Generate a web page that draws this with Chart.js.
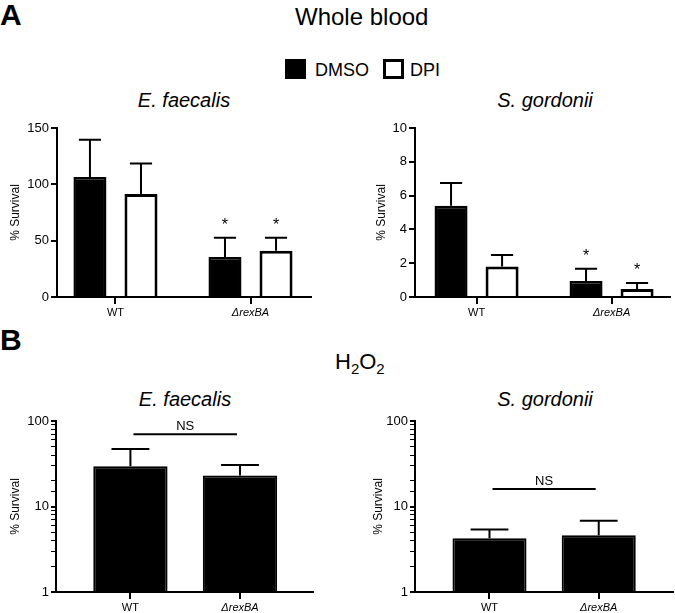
<!DOCTYPE html>
<html lang="en">
<head>
<meta charset="UTF-8">
<title>Whole blood / H2O2 survival</title>
<script src="https://cdn.jsdelivr.net/npm/chart.js"></script>
<style>
  body { margin:0; width:675px; height:613px; position:relative; background:#fff; overflow:hidden;
         font-family:"Liberation Sans", Arial, sans-serif; color:#000; }
  canvas, .t, .box { position:absolute; }
  .t { white-space:nowrap; line-height:1; }
  .c { transform:translateX(-50%); }
  .letter { font-weight:bold; font-size:30px; }
  .sp { font-style:italic; font-size:20px; }
  .box { width:21px; height:20px; box-sizing:border-box; border:3px solid #000; }
</style>
</head>
<body>
<div class="t letter" style="left:0;top:0">A</div>
<div class="t" style="left:295px;top:5px;font-size:24px">Whole blood</div>
<div class="box" style="left:285px;top:59px;background:#000"></div>
<div class="t" style="left:315px;top:61px;font-size:18px">DMSO</div>
<div class="box" style="left:383px;top:59px;background:#fff"></div>
<div class="t" style="left:410px;top:61px;font-size:18px">DPI</div>
<div class="t sp c" style="left:184px;top:90px">E. faecalis</div>
<div class="t sp c" style="left:545px;top:90px">S. gordonii</div>

<div class="t letter" style="left:0;top:325px">B</div>
<div class="t" style="left:335px;top:351px;font-size:22px">H<span style="font-size:15px;position:relative;top:5px">2</span>O<span style="font-size:15px;position:relative;top:5px">2</span></div>
<div class="t sp c" style="left:185px;top:389px">E. faecalis</div>
<div class="t sp c" style="left:545px;top:389px">S. gordonii</div>

<canvas id="aLeft" width="330" height="210" style="left:0;top:115px"></canvas>
<canvas id="aRight" width="309" height="210" style="left:366px;top:115px"></canvas>
<canvas id="bLeft" width="330" height="213" style="left:0;top:400px"></canvas>
<canvas id="bRight" width="312" height="213" style="left:363px;top:400px"></canvas>

<script>
// categories
const groups = ['WT', 'ΔrexBA'];

// A - whole blood, % survival (mean and SD)
const efDmso = [106.5, 35.5];
const efDmsoSd = [33, 17];
const efDpi = [91.5, 41];
const efDpiSd = [27, 11.5];
const sgDmso = [5.4, 0.95];
const sgDmsoSd = [1.35, 0.72];
const sgDpi = [1.8, 0.47];
const sgDpiSd = [0.68, 0.36];
const starDmso = [false, true];
const starDpi = [false, true];

// B - H2O2, % survival (mean and SD)
const efH2o2 = [29.5, 23];
const efH2o2Sd = [17.5, 7.6];
const sgH2o2 = [4.25, 4.6];
const sgH2o2Sd = [1.15, 2.2];
const efNsLevel = 70;
const sgNsLevel = 16;

// tick labels
const aLeftTicks = [0, 50, 100, 150];
const aRightTicks = [0, 2, 4, 6, 8, 10];
const logLabels = [1, 10, 100];

const FONT = '"Liberation Sans", Arial, sans-serif';
Chart.defaults.font.family = FONT;
Chart.defaults.color = '#000';

// error bars (upper whisker only), stars and the NS bracket
const errorBars = {
  id: 'errorBars',
  afterDatasetsDraw(chart, args, opts) {
    const ctx = chart.ctx;
    const y = chart.scales.y;
    ctx.save();
    ctx.strokeStyle = '#000';
    ctx.fillStyle = '#000';
    ctx.lineWidth = 2;
    chart.data.datasets.forEach((ds, i) => {
      chart.getDatasetMeta(i).data.forEach((bar, j) => {
        const top = y.getPixelForValue(ds.data[j].y + ds.sd[j]);
        const half = bar.width * opts.cap / 2;
        ctx.beginPath();
        ctx.moveTo(bar.x, bar.y);
        ctx.lineTo(bar.x, top);
        ctx.moveTo(bar.x - half, top);
        ctx.lineTo(bar.x + half, top);
        ctx.stroke();
        if (ds.star && ds.star[j]) {
          ctx.font = '16px ' + FONT;
          ctx.textAlign = 'center';
          ctx.fillText('*', bar.x, top - 8);
        }
      });
    });
    if (opts.ns) {
      const x = chart.scales.x;
      const ly = y.getPixelForValue(opts.ns);
      const x0 = x.getPixelForValue(0) + 3, x1 = x.getPixelForValue(1) - 3;
      ctx.beginPath();
      ctx.moveTo(x0, ly);
      ctx.lineTo(x1, ly);
      ctx.stroke();
      ctx.font = '13px ' + FONT;
      ctx.textAlign = 'center';
      ctx.fillText('NS', (x0 + x1) / 2, ly - 4);
    }
    ctx.restore();
  }
};

function pts(vals) {
  return vals.map((v, i) => ({ x: i, y: v }));
}

function panel(id, datasets, yScale, o) {
  new Chart(document.getElementById(id), {
    type: 'bar',
    data: { datasets: datasets },
    plugins: [errorBars],
    options: {
      responsive: false,
      animation: false,
      layout: { padding: { top: o.padTop, right: o.padRight, bottom: 0, left: 0 } },
      plugins: {
        legend: { display: false },
        tooltip: { enabled: false },
        errorBars: { cap: o.cap, ns: o.ns }
      },
      scales: {
        x: {
          type: 'linear',
          min: o.xMin,
          max: o.xMax,
          offset: false,
          afterBuildTicks: s => { s.ticks = [{ value: 0 }, { value: 1 }]; },
          afterFit: s => { s.height = o.xHeight; },
          grid: { offset: false, drawOnChartArea: false, tickLength: 7, color: '#000', lineWidth: 2 },
          border: { color: '#000', width: 2 },
          ticks: {
            padding: 2,
            maxRotation: 0,
            font: c => ({ size: 11, style: c.index === 1 ? 'italic' : 'normal' }),
            callback: v => groups[v]
          }
        },
        y: Object.assign({
          afterFit: s => { s.width = o.yWidth; },
          border: { color: '#000', width: 2 },
          title: { display: true, text: '% Survival', font: { size: 12 }, padding: { top: 8, bottom: 0 } }
        }, yScale)
      }
    }
  });
}

function linearY(ticks) {
  return {
    type: 'linear',
    min: ticks[0],
    max: ticks[ticks.length - 1],
    afterBuildTicks: s => { s.ticks = ticks.map(v => ({ value: v })); },
    grid: { drawOnChartArea: false, tickLength: 6, color: '#000', lineWidth: 2 },
    ticks: { font: { size: 13 }, padding: 2 }
  };
}

function logY() {
  return {
    type: 'logarithmic',
    min: 1,
    max: 100,
    grid: {
      drawOnChartArea: false, tickLength: 5, color: '#000',
      lineWidth: c => (c.tick && logLabels.includes(c.tick.value)) ? 2 : 1
    },
    ticks: {
      autoSkip: false,
      font: { size: 13 },
      padding: 2,
      callback: v => logLabels.includes(v) ? String(v) : ''
    }
  };
}

const groupedBars = { categoryPercentage: 0.756, barPercentage: 0.647 };
const dmsoStyle = { backgroundColor: '#000', borderColor: '#000', borderWidth: 2.5 };
const dpiStyle = { backgroundColor: '#fff', borderColor: '#000', borderWidth: 3 };
const singleBars = { backgroundColor: '#000', borderColor: '#000', borderWidth: 2, categoryPercentage: 1, barPercentage: 0.678 };

panel('aLeft', [
  Object.assign({ label: 'DMSO', data: pts(efDmso), sd: efDmsoSd, star: starDmso }, dmsoStyle, groupedBars),
  Object.assign({ label: 'DPI', data: pts(efDpi), sd: efDpiSd, star: starDpi }, dpiStyle, groupedBars)
], linearY(aLeftTicks), { padTop: 13, padRight: 19, xHeight: 28, yWidth: 57, xMin: -0.433, xMax: 1.448, cap: 0.67 });

panel('aRight', [
  Object.assign({ label: 'DMSO', data: pts(sgDmso), sd: sgDmsoSd, star: starDmso }, dmsoStyle, groupedBars),
  Object.assign({ label: 'DPI', data: pts(sgDpi), sd: sgDpiSd, star: starDpi }, dpiStyle, groupedBars)
], linearY(aRightTicks), { padTop: 13, padRight: 5, xHeight: 28, yWidth: 49, xMin: -0.456, xMax: 1.433, cap: 0.67 });

panel('bLeft', [
  Object.assign({ label: 'DMSO', data: pts(efH2o2), sd: efH2o2Sd }, singleBars)
], logY(), { padTop: 21, padRight: 17, xHeight: 21, yWidth: 56, xMin: -0.679, xMax: 1.666, cap: 0.51, ns: efNsLevel });

panel('bRight', [
  Object.assign({ label: 'DMSO', data: pts(sgH2o2), sd: sgH2o2Sd }, singleBars)
], logY(), { padTop: 21, padRight: 2, xHeight: 21, yWidth: 52, xMin: -0.682, xMax: 1.68, cap: 0.51, ns: sgNsLevel });
</script>
</body>
</html>
